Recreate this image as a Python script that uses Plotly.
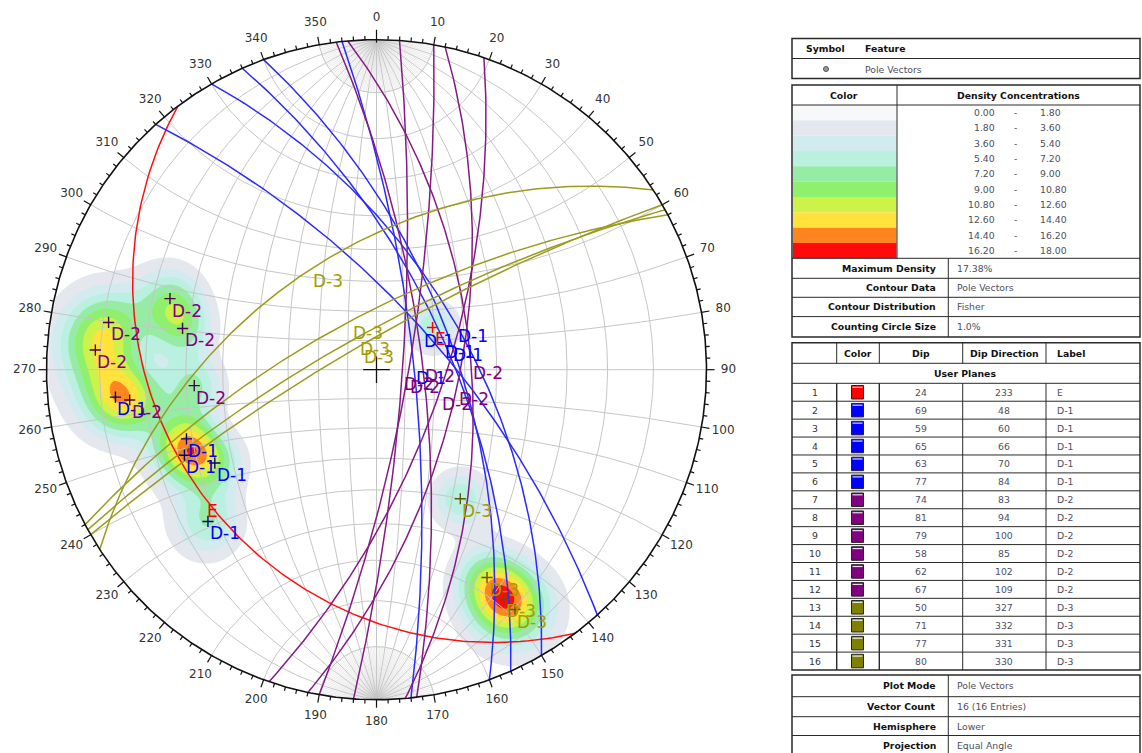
import numpy as np
import plotly.graph_objects as go

# ---------------------------------------------------------------- data
plane_no = list(range(1, 17))
plane_dip = [24, 69, 59, 65, 63, 77, 74, 81, 79, 58, 62, 67, 50, 71, 77, 80]
plane_dipdir = [233, 48, 60, 66, 70, 84, 83, 94, 100, 85, 102, 109, 327, 332, 331, 330]
plane_label = ["E", "D-1", "D-1", "D-1", "D-1", "D-1", "D-2", "D-2", "D-2",
               "D-2", "D-2", "D-2", "D-3", "D-3", "D-3", "D-3"]

set_line = {"E": "#ff1010", "D-1": "#2a2aff", "D-2": "#851a85", "D-3": "#9b9b1e"}
set_text = {"E": "#ff0000", "D-1": "#0000ff", "D-2": "#800080", "D-3": "#a39c00"}
set_cross = {"E": "#ff0000", "D-1": "#00008b", "D-2": "#4b004b", "D-3": "#5a5a00"}
set_swatch = {"E": "#ff0000", "D-1": "#0000ff", "D-2": "#800080", "D-3": "#808000"}

density_from = [0.00, 1.80, 3.60, 5.40, 7.20, 9.00, 10.80, 12.60, 14.40, 16.20]
density_to = [1.80, 3.60, 5.40, 7.20, 9.00, 10.80, 12.60, 14.40, 16.20, 18.00]
density_fill = ["#f7f8fa", "#e4e8ee", "#d2ebef", "#b9f0df", "#96eca5",
                "#8ef06c", "#cdf24a", "#ffe23c", "#ff8520", "#ff0a0a"]

contour_names = ["Maximum Density", "Contour Data", "Contour Distribution", "Counting Circle Size"]
contour_values = ["17.38%", "Pole Vectors", "Fisher", "1.0%"]
plot_names = ["Plot Mode", "Vector Count", "Hemisphere", "Projection"]
plot_values = ["Pole Vectors", "16 (16 Entries)", "Lower", "Equal Angle"]

max_density = 17.38
fisher_k = 100.0

# ---------------------------------------------------------------- page geometry
W, H = 1142, 753
CX, CY, R = 376.5, 369.7, 330.0      # net centre / radius on the page (px)


def vec(trend, plunge):
    t, p = np.radians(trend), np.radians(plunge)
    return np.array([np.cos(p) * np.sin(t), np.cos(p) * np.cos(t), -np.sin(p)])


def project(v):
    """Equal-angle (stereographic) lower-hemisphere projection of unit vectors."""
    x, y, z = v
    z = np.minimum(z, 0.0)
    return x / (1 - z), y / (1 - z)


def great_circle(dip, dipdir, b0=0.0, b1=180.0, n=181):
    s = vec(dipdir - 90, 0)
    d = vec(dipdir, dip)
    b = np.radians(np.linspace(b0, b1, n))
    v = np.outer(s, np.cos(b)) + np.outer(d, np.sin(b))
    return project(v)


fig = go.Figure()

# ---------------------------------------------------------------- Fisher density of poles
n = 321
g = np.linspace(-1, 1, n)
U, V = np.meshgrid(g, g)
rho2 = U ** 2 + V ** 2
den = 1 + rho2
X, Y, Z = 2 * U / den, 2 * V / den, -(1 - rho2) / den
dens = np.zeros_like(U)
for d, dd in zip(plane_dip, plane_dipdir):
    p = vec(dd + 180, 90 - d)
    c = X * p[0] + Y * p[1] + Z * p[2]
    dens += np.exp(fisher_k * (c - 1))
dens *= max_density / dens[rho2 <= 1].max()
zgrid = [[None if r2 > 1.0 else float(v) for v, r2 in zip(row, rrow)]
         for row, rrow in zip(dens, rho2)]

nlev = len(density_fill) - 1
cscale = []
for k, col in enumerate(density_fill):
    col = "rgba(255,255,255,0)" if k == 0 else col
    cscale.append([max(0.0, (k - 0.5) / nlev), col])
    cscale.append([min(1.0, (k + 0.5) / nlev), col])

fig.add_trace(go.Contour(
    x=g, y=g, z=zgrid, colorscale=cscale, showscale=False, connectgaps=False,
    contours=dict(start=density_to[0], end=density_from[-1] + 0.1,
                  size=density_to[0] - density_from[0], coloring="fill", showlines=False),
    line=dict(width=0), hoverinfo="skip"))

# ---------------------------------------------------------------- Wulff net
gx, gy = [], []
fx, fy = [], []


def add(x, y, bx=gx, by=gy):
    bx.extend(list(x) + [None])
    by.extend(list(y) + [None])


for a in range(10, 90, 10):
    for side in (90, 270):
        add(*great_circle(a, side))
add([0, 0], [-1, 1])
for a in range(2, 90, 2):
    if a % 10 == 0:
        continue
    for side in (90, 270):
        add(*great_circle(a, side, 0, 10, 11), fx, fy)
        add(*great_circle(a, side, 170, 180, 11), fx, fy)
psi = np.linspace(0, np.pi, 121)
for a in range(10, 90, 10):
    ga = np.radians(a)
    for sgn in (1, -1):
        v = np.vstack([np.sin(ga) * np.cos(psi), sgn * np.cos(ga) * np.ones_like(psi),
                       -np.sin(ga) * np.sin(psi)])
        add(*project(v))
add([-1, 1], [0, 0])
fig.add_trace(go.Scatter(x=fx, y=fy, mode="lines", line=dict(color="#d6d6d6", width=0.5),
                         hoverinfo="skip"))
fig.add_trace(go.Scatter(x=gx, y=gy, mode="lines", line=dict(color="#c6c6c6", width=1),
                         hoverinfo="skip"))

# ---------------------------------------------------------------- user planes
for d, dd, lab in zip(plane_dip, plane_dipdir, plane_label):
    x, y = great_circle(d, dd)
    fig.add_trace(go.Scatter(x=x, y=y, mode="lines",
                             line=dict(color=set_line[lab], width=1.5), hoverinfo="skip"))

# ---------------------------------------------------------------- primitive circle and ticks
th = np.radians(np.linspace(0, 360, 721))
fig.add_trace(go.Scatter(x=np.sin(th), y=np.cos(th), mode="lines",
                         line=dict(color="#111111", width=1.6), hoverinfo="skip"))
tx, ty = [], []
for az in range(0, 360, 2):
    t = np.radians(az)
    if az == 0:
        r0, r1 = 1 - 3 / R, 1 + 10 / R
    elif az % 10 == 0:
        r0, r1 = 1.0, 1 + 8 / R
    else:
        r0, r1 = 1.0, 1 + 4 / R
    tx += [r0 * np.sin(t), r1 * np.sin(t), None]
    ty += [r0 * np.cos(t), r1 * np.cos(t), None]
fig.add_trace(go.Scatter(x=tx, y=ty, mode="lines", line=dict(color="#111111", width=1.2),
                         hoverinfo="skip"))
azl = np.arange(0, 360, 10)
rl = 1 + 22 / R
fig.add_trace(go.Scatter(x=rl * np.sin(np.radians(azl)), y=rl * np.cos(np.radians(azl)),
                         mode="text", text=[str(a) for a in azl], textposition="middle center",
                         textfont=dict(family="DejaVu Sans", size=12, color="#333333"),
                         hoverinfo="skip"))

# centre mark
fig.add_trace(go.Scatter(x=[0], y=[0], mode="markers",
                         marker=dict(symbol="cross-thin", size=19,
                                     line=dict(color="#111111", width=1.3)),
                         hoverinfo="skip"))

# ---------------------------------------------------------------- poles and labels
annos = []
for d, dd, lab in zip(plane_dip, plane_dipdir, plane_label):
    px, py = project(vec(dd + 180, 90 - d))
    fig.add_trace(go.Scatter(x=[px], y=[py], mode="markers",
                             marker=dict(symbol="cross-thin", size=8,
                                         line=dict(color=set_cross[lab], width=1.4)),
                             hoverinfo="skip"))
    qx, qy = project(vec(dd, d))
    for ax, ay in ((px, py), (qx, qy)):
        annos.append(dict(x=ax, y=ay, xref="x", yref="y", text=lab, showarrow=False,
                          xanchor="left", yanchor="top",
                          font=dict(family="DejaVu Sans", size=17, color=set_text[lab])))

# ---------------------------------------------------------------- side tables
shapes = []
LINE = "#2a2a2a"
VAL = "#4e4e5e"
TF = "DejaVu Sans"
TS = 9.3


def pxp(x):
    return x / W


def pyp(y):
    return 1 - y / H


def hline(x0, x1, y, w=1.0):
    shapes.append(dict(type="line", xref="paper", yref="paper", x0=pxp(x0), x1=pxp(x1),
                       y0=pyp(y), y1=pyp(y), line=dict(color=LINE, width=w)))


def vline(x, y0, y1, w=1.0):
    shapes.append(dict(type="line", xref="paper", yref="paper", x0=pxp(x), x1=pxp(x),
                       y0=pyp(y0), y1=pyp(y1), line=dict(color=LINE, width=w)))


def rect(x0, y0, x1, y1, fill=None, w=1.5, col=LINE):
    shapes.append(dict(type="rect", xref="paper", yref="paper", x0=pxp(x0), x1=pxp(x1),
                       y0=pyp(y1), y1=pyp(y0), fillcolor=fill or "rgba(0,0,0,0)",
                       line=dict(color=col, width=w)))


def label(x, y, s, anchor="left", bold=False, color=VAL):
    annos.append(dict(x=pxp(x), y=pyp(y), xref="paper", yref="paper",
                      text=f"<b>{s}</b>" if bold else s, showarrow=False,
                      xanchor=anchor, yanchor="middle",
                      font=dict(family=TF, size=TS, color=color)))


# symbol / feature
rect(792, 38.5, 1140, 78.5)
hline(792, 1140, 58.5)
label(825, 48.5, "Symbol", "center", True, "#111")
label(863, 48.5, "Feature", "left", True, "#111")
shapes.append(dict(type="circle", xref="paper", yref="paper", x0=pxp(823.5), x1=pxp(828.5),
                   y0=pyp(71.5), y1=pyp(66.5), fillcolor="#9a9a9a",
                   line=dict(color="#555", width=1)))
label(863, 69, "Pole Vectors")

# density legend
band_h = (258.3 - 105) / len(density_fill)
for i, col in enumerate(density_fill):
    y0 = 105 + i * band_h
    shapes.append(dict(type="rect", xref="paper", yref="paper", x0=pxp(793), x1=pxp(896.5),
                       y0=pyp(y0 + band_h), y1=pyp(y0), fillcolor=col, line=dict(width=0)))
    yc = y0 + band_h / 2
    label(997, yc, f"{density_from[i]:.2f}", "right")
    label(1015, yc, "-", "center")
    label(1038, yc, f"{density_to[i]:.2f}", "left")
rect(792, 85, 1140, 337)
hline(792, 1140, 105)
vline(897, 85, 258.3)
label(844, 95, "Color", "center", True, "#111")
label(1018, 95, "Density Concentrations", "center", True, "#111")
info_edges = [258.3, 278.3, 297.3, 316.6, 337]
for y in info_edges[:-1]:
    hline(792, 1140, y)
vline(948.3, 258.3, 337)
for i, (nm, vv) in enumerate(zip(contour_names, contour_values)):
    yc = (info_edges[i] + info_edges[i + 1]) / 2
    label(938, yc, nm, "right", True, "#111")
    label(955, yc, vv, "left")

# user planes table
top, head_b, sub_b = 342.7, 363.3, 383.3
row_h = 17.92
bottom = sub_b + row_h * len(plane_no)
rect(792, top, 1140, bottom)
hline(792, 1140, head_b)
hline(792, 1140, sub_b)
for x in (836.7, 879.3, 962.7, 1046):
    vline(x, top, head_b)
    vline(x, sub_b, bottom, 1.4 if x in (836.7, 879.3) else 1.0)
label(858, 353, "Color", "center", True, "#111")
label(921, 353, "Dip", "center", True, "#111")
label(1004, 353, "Dip Direction", "center", True, "#111")
label(1055, 353, "Label", "left", True, "#111")
label(965, 373.3, "User Planes", "center", True, "#111")
for i, (no, d, dd, lab) in enumerate(zip(plane_no, plane_dip, plane_dipdir, plane_label)):
    y0 = sub_b + i * row_h
    if i:
        hline(792, 1140, y0)
    yc = y0 + row_h / 2
    label(815, yc, str(no), "center", False, "#333")
    rect(851.5, y0 + 2.2, 863.5, y0 + row_h - 2.2, fill=set_swatch[lab], w=1, col="#222")
    hline(852.5, 862.5, y0 + 4, 1.2)
    shapes[-1]["line"]["color"] = "rgba(255,255,255,0.85)"
    label(921, yc, str(d), "center")
    label(1004, yc, str(dd), "center")
    label(1055, yc, lab, "left")

# plot summary
p_edges = [675, 696.7, 716.7, 735.5, 756]
rect(792, 675, 1140, 760)
for y in p_edges[1:-1]:
    hline(792, 1140, y)
vline(948.3, 675, 760)
for i, (nm, vv) in enumerate(zip(plot_names, plot_values)):
    yc = (p_edges[i] + p_edges[i + 1]) / 2
    label(938, yc, nm, "right", True, "#111")
    label(955, yc, vv, "left")

fig.update_layout(
    width=W, height=H, margin=dict(l=0, r=0, t=0, b=0),
    paper_bgcolor="white", plot_bgcolor="white", showlegend=False,
    xaxis=dict(range=[-CX / R, (W - CX) / R], visible=False),
    yaxis=dict(range=[(CY - H) / R, CY / R], visible=False),
    shapes=shapes, annotations=annos,
)
fig.write_html("out.html")
